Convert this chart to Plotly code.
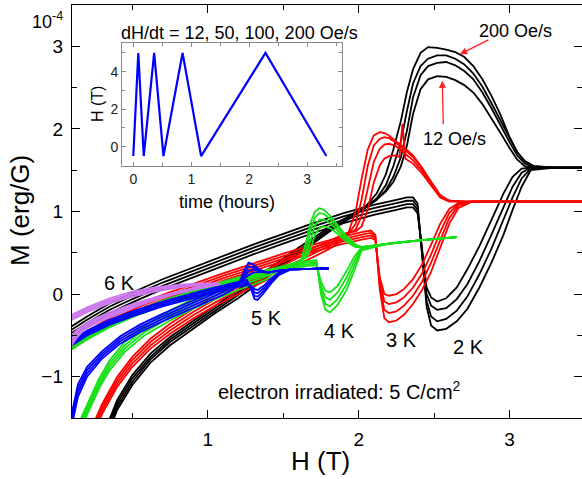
import plotly.graph_objects as go

# ---------------- data ----------------
RATES = [12, 50, 100, 200]  # sweep rates, Oe/s

# 2 K : branch through the large peak, and branch through the dip
H_2K_RISE = [0.33, 0.40, 0.50, 0.62, 0.75, 0.90, 1.05, 1.20, 1.40, 1.60, 1.80, 1.95, 2.05, 2.12,
             2.18, 2.23, 2.28, 2.32, 2.36, 2.41, 2.46, 2.52, 2.58, 2.64, 2.70, 2.76, 2.82, 2.88,
             2.94, 3.00, 3.05, 3.10, 3.16, 3.30, 3.48]
M_2K_RISE = [
    [-1.60, -1.28, -0.98, -0.72, -0.52, -0.33, -0.14, 0.04, 0.30, 0.56, 0.80, 0.96, 1.07, 1.15,
     1.24, 1.36, 1.55, 1.80, 2.18, 2.48, 2.60, 2.64, 2.63, 2.59, 2.53, 2.44, 2.30, 2.13,
     1.95, 1.77, 1.63, 1.55, 1.53, 1.53, 1.53],
    [-1.64, -1.32, -1.02, -0.76, -0.55, -0.36, -0.17, 0.01, 0.27, 0.53, 0.78, 0.94, 1.05, 1.14,
     1.26, 1.42, 1.66, 1.98, 2.38, 2.65, 2.76, 2.80, 2.81, 2.77, 2.70, 2.60, 2.44, 2.25,
     2.04, 1.84, 1.68, 1.58, 1.54, 1.53, 1.53],
    [-1.68, -1.36, -1.06, -0.79, -0.58, -0.39, -0.20, -0.02, 0.24, 0.51, 0.76, 0.93, 1.05, 1.16,
     1.32, 1.55, 1.85, 2.22, 2.55, 2.76, 2.85, 2.89, 2.89, 2.85, 2.78, 2.67, 2.51, 2.31,
     2.10, 1.89, 1.72, 1.61, 1.55, 1.53, 1.53],
    [-1.72, -1.40, -1.10, -0.83, -0.62, -0.42, -0.23, -0.05, 0.22, 0.49, 0.75, 0.93, 1.07, 1.22,
     1.45, 1.75, 2.10, 2.45, 2.72, 2.92, 2.99, 2.98, 2.96, 2.93, 2.87, 2.76, 2.60, 2.40,
     2.17, 1.90, 1.72, 1.61, 1.55, 1.53, 1.53],
]
H_2K_FALL = [0.09, 0.20, 0.35, 0.50, 0.70, 0.90, 1.10, 1.30, 1.50, 1.70, 1.90, 2.10, 2.25, 2.32,
             2.36, 2.39, 2.42, 2.45, 2.48, 2.52, 2.58, 2.65, 2.72, 2.80, 2.88, 2.96, 3.02, 3.08,
             3.14, 3.30, 3.48]
M_2K_FALL = [
    [-0.52, -0.39, -0.23, -0.10, 0.06, 0.20, 0.34, 0.48, 0.61, 0.74, 0.86, 0.96, 1.02, 1.05,
     1.05, 0.98, 0.55, 0.08, -0.04, -0.09, -0.05, 0.08, 0.30, 0.58, 0.90, 1.22, 1.42, 1.52,
     1.53, 1.53, 1.53],
    [-0.48, -0.35, -0.19, -0.06, 0.10, 0.24, 0.38, 0.52, 0.65, 0.78, 0.90, 1.00, 1.06, 1.09,
     1.09, 1.02, 0.52, 0.00, -0.14, -0.19, -0.17, -0.06, 0.12, 0.40, 0.72, 1.05, 1.30, 1.47,
     1.53, 1.53, 1.53],
    [-0.44, -0.31, -0.15, -0.02, 0.14, 0.28, 0.42, 0.56, 0.69, 0.82, 0.94, 1.04, 1.10, 1.13,
     1.13, 1.06, 0.50, -0.08, -0.27, -0.33, -0.30, -0.20, -0.03, 0.24, 0.55, 0.90, 1.17, 1.40,
     1.52, 1.53, 1.53],
    [-0.40, -0.27, -0.11, 0.02, 0.18, 0.32, 0.46, 0.60, 0.73, 0.86, 0.98, 1.08, 1.14, 1.17,
     1.17, 1.10, 0.48, -0.15, -0.38, -0.44, -0.42, -0.33, -0.18, 0.08, 0.38, 0.72, 1.02, 1.30,
     1.50, 1.53, 1.53],
]

# 3 K
H_3K_RISE = [0.24, 0.30, 0.40, 0.50, 0.62, 0.75, 0.90, 1.05, 1.20, 1.40, 1.60, 1.80, 1.92, 1.98,
             2.02, 2.06, 2.10, 2.14, 2.17, 2.20, 2.24, 2.27, 2.29, 2.31, 2.36, 2.42, 2.48, 2.54,
             2.60, 2.70, 3.00, 3.48]
M_3K_RISE = [
    [-1.58, -1.33, -1.00, -0.76, -0.54, -0.36, -0.18, -0.02, 0.12, 0.30, 0.48, 0.64, 0.74, 0.76,
     0.82, 1.02, 1.35, 1.56, 1.64, 1.67, 1.68, 1.66, 2.06, 1.64, 1.58, 1.46, 1.31, 1.17,
     1.12, 1.12, 1.12, 1.12],
    [-1.62, -1.37, -1.04, -0.80, -0.58, -0.40, -0.22, -0.06, 0.08, 0.26, 0.44, 0.61, 0.72, 0.78,
     0.95, 1.28, 1.60, 1.76, 1.81, 1.82, 1.80, 1.76, 1.73, 1.70, 1.62, 1.49, 1.33, 1.18,
     1.13, 1.12, 1.12, 1.12],
    [-1.66, -1.41, -1.08, -0.84, -0.62, -0.44, -0.26, -0.10, 0.04, 0.22, 0.40, 0.58, 0.70, 0.85,
     1.15, 1.55, 1.80, 1.88, 1.90, 1.89, 1.84, 1.80, 1.77, 1.74, 1.66, 1.52, 1.35, 1.19,
     1.13, 1.12, 1.12, 1.12],
    [-1.70, -1.45, -1.12, -0.88, -0.66, -0.48, -0.30, -0.14, 0.00, 0.18, 0.36, 0.54, 0.68, 1.00,
     1.40, 1.75, 1.92, 1.96, 1.95, 1.92, 1.86, 1.82, 1.79, 1.76, 1.68, 1.53, 1.36, 1.20,
     1.13, 1.12, 1.12, 1.12],
]
H_3K_FALL = [0.09, 0.20, 0.35, 0.50, 0.70, 0.90, 1.10, 1.30, 1.50, 1.70, 1.90, 2.02, 2.08, 2.11,
             2.14, 2.17, 2.20, 2.25, 2.30, 2.36, 2.42, 2.48, 2.54, 2.60, 2.66, 2.75, 3.00, 3.48]
M_3K_FALL = [
    [-0.68, -0.54, -0.38, -0.25, -0.10, 0.03, 0.16, 0.28, 0.40, 0.51, 0.61, 0.66, 0.68, 0.66,
     0.20, 0.00, -0.02, 0.00, 0.06, 0.18, 0.36, 0.60, 0.85, 1.03, 1.10, 1.12, 1.12, 1.12],
    [-0.65, -0.51, -0.35, -0.22, -0.07, 0.06, 0.19, 0.31, 0.43, 0.54, 0.64, 0.69, 0.71, 0.68,
     0.15, -0.09, -0.12, -0.10, -0.04, 0.08, 0.25, 0.48, 0.75, 0.98, 1.09, 1.12, 1.12, 1.12],
    [-0.62, -0.48, -0.32, -0.19, -0.04, 0.09, 0.22, 0.34, 0.46, 0.57, 0.67, 0.72, 0.74, 0.70,
     0.10, -0.19, -0.23, -0.21, -0.14, -0.02, 0.15, 0.38, 0.65, 0.92, 1.07, 1.12, 1.12, 1.12],
    [-0.59, -0.45, -0.29, -0.16, -0.01, 0.12, 0.25, 0.37, 0.49, 0.60, 0.70, 0.75, 0.77, 0.72,
     0.05, -0.29, -0.34, -0.32, -0.25, -0.12, 0.05, 0.27, 0.55, 0.85, 1.04, 1.12, 1.12, 1.12],
]

# 4 K
H_4K_RISE = [0.16, 0.22, 0.28, 0.35, 0.45, 0.58, 0.75, 0.90, 1.05, 1.20, 1.35, 1.50, 1.58, 1.62,
             1.65, 1.68, 1.71, 1.74, 1.77, 1.81, 1.86, 1.92, 1.98, 2.02, 2.20, 2.40, 2.65]
M_4K_RISE = [
    [-1.50, -1.26, -1.02, -0.80, -0.58, -0.38, -0.20, -0.06, 0.06, 0.17, 0.25, 0.33, 0.38, 0.41,
     0.44, 0.54, 0.72, 0.80, 0.82, 0.80, 0.73, 0.63, 0.57, 0.57, 0.61, 0.65, 0.69],
    [-1.54, -1.30, -1.06, -0.84, -0.62, -0.42, -0.24, -0.10, 0.02, 0.13, 0.22, 0.31, 0.37, 0.40,
     0.46, 0.64, 0.83, 0.90, 0.90, 0.86, 0.77, 0.66, 0.58, 0.57, 0.61, 0.65, 0.69],
    [-1.58, -1.34, -1.10, -0.88, -0.66, -0.46, -0.28, -0.14, -0.02, 0.09, 0.19, 0.29, 0.35, 0.40,
     0.52, 0.76, 0.93, 0.98, 0.97, 0.91, 0.81, 0.68, 0.59, 0.57, 0.61, 0.65, 0.69],
    [-1.62, -1.38, -1.14, -0.92, -0.70, -0.50, -0.32, -0.18, -0.06, 0.05, 0.15, 0.26, 0.33, 0.42,
     0.62, 0.86, 1.00, 1.04, 1.02, 0.95, 0.84, 0.70, 0.60, 0.57, 0.61, 0.65, 0.69],
]
H_4K_FALL = [0.09, 0.20, 0.35, 0.50, 0.70, 0.90, 1.10, 1.30, 1.50, 1.65, 1.72, 1.75, 1.78, 1.81,
             1.86, 1.92, 1.97, 2.02, 2.20, 2.40, 2.65]
M_4K_FALL = [
    [-0.68, -0.55, -0.40, -0.28, -0.14, -0.02, 0.09, 0.19, 0.28, 0.34, 0.35, 0.15, 0.04, 0.02,
     0.10, 0.28, 0.45, 0.57, 0.61, 0.65, 0.69],
    [-0.66, -0.53, -0.38, -0.26, -0.12, 0.00, 0.11, 0.21, 0.30, 0.36, 0.37, 0.10, -0.04, -0.07,
     0.02, 0.20, 0.40, 0.56, 0.61, 0.65, 0.69],
    [-0.64, -0.51, -0.36, -0.24, -0.10, 0.02, 0.13, 0.23, 0.32, 0.38, 0.39, 0.05, -0.12, -0.15,
     -0.06, 0.12, 0.34, 0.55, 0.61, 0.65, 0.69],
    [-0.62, -0.49, -0.34, -0.22, -0.08, 0.04, 0.15, 0.25, 0.34, 0.40, 0.41, 0.00, -0.19, -0.22,
     -0.13, 0.05, 0.28, 0.53, 0.61, 0.65, 0.69],
]

# 5 K
H_5K_RISE = [0.08, 0.11, 0.14, 0.20, 0.30, 0.42, 0.55, 0.70, 0.85, 1.00, 1.10, 1.17, 1.21, 1.24,
             1.27, 1.30, 1.34, 1.40, 1.46, 1.55, 1.80]
M_5K_RISE = [
    [-1.60, -1.35, -1.09, -0.88, -0.69, -0.51, -0.37, -0.24, -0.12, 0.00, 0.08, 0.12, 0.15, 0.18,
     0.23, 0.26, 0.27, 0.26, 0.28, 0.30, 0.31],
    [-1.65, -1.40, -1.14, -0.92, -0.72, -0.54, -0.40, -0.27, -0.15, -0.03, 0.05, 0.10, 0.14, 0.20,
     0.28, 0.30, 0.28, 0.26, 0.28, 0.30, 0.31],
    [-1.70, -1.45, -1.19, -0.96, -0.75, -0.57, -0.43, -0.30, -0.18, -0.06, 0.02, 0.08, 0.14, 0.24,
     0.33, 0.33, 0.29, 0.26, 0.28, 0.30, 0.31],
    [-1.75, -1.50, -1.24, -1.00, -0.78, -0.60, -0.46, -0.33, -0.21, -0.09, -0.01, 0.06, 0.14, 0.28,
     0.38, 0.36, 0.30, 0.26, 0.28, 0.30, 0.31],
]
H_5K_FALL = [0.09, 0.20, 0.35, 0.50, 0.70, 0.90, 1.05, 1.18, 1.26, 1.29, 1.31, 1.33, 1.37, 1.42,
             1.47, 1.55, 1.80]
M_5K_FALL = [
    [-0.63, -0.50, -0.37, -0.27, -0.15, -0.05, 0.02, 0.08, 0.11, 0.10, 0.06, 0.05, 0.10, 0.19,
     0.26, 0.30, 0.31],
    [-0.61, -0.48, -0.35, -0.25, -0.13, -0.03, 0.04, 0.10, 0.13, 0.08, 0.02, 0.01, 0.07, 0.17,
     0.25, 0.30, 0.31],
    [-0.59, -0.46, -0.33, -0.23, -0.11, -0.01, 0.06, 0.12, 0.15, 0.06, -0.02, -0.03, 0.04, 0.15,
     0.24, 0.30, 0.31],
    [-0.57, -0.44, -0.31, -0.21, -0.09, 0.01, 0.08, 0.14, 0.17, 0.04, -0.06, -0.07, 0.01, 0.13,
     0.23, 0.30, 0.31],
]

# 6 K
H_6K_UPPER = [0.09, 0.20, 0.35, 0.50, 0.65, 0.80, 0.95, 1.08]
M_6K_UPPER = [
    [-0.32, -0.22, -0.11, -0.03, 0.03, 0.08, 0.11, 0.12],
    [-0.30, -0.20, -0.09, -0.01, 0.05, 0.09, 0.12, 0.12],
    [-0.28, -0.18, -0.07, 0.01, 0.06, 0.10, 0.12, 0.13],
    [-0.26, -0.16, -0.05, 0.03, 0.08, 0.11, 0.13, 0.13],
]
H_6K_LOWER = [0.09, 0.13, 0.18, 0.25, 0.35, 0.50, 0.65, 0.80, 0.95, 1.08]
M_6K_LOWER = [
    [-0.52, -0.44, -0.37, -0.30, -0.22, -0.12, -0.04, 0.03, 0.09, 0.12],
    [-0.56, -0.47, -0.39, -0.32, -0.24, -0.14, -0.05, 0.02, 0.08, 0.12],
    [-0.60, -0.50, -0.41, -0.34, -0.26, -0.16, -0.06, 0.02, 0.08, 0.12],
    [-0.64, -0.53, -0.43, -0.36, -0.28, -0.17, -0.07, 0.01, 0.07, 0.12],
]

# inset: field protocol H(t)
T_HOURS = [0.0, 0.086, 0.18, 0.36, 0.52, 0.85, 1.17, 2.28, 3.33]
H_TESLA = [-0.5, 5.0, -0.5, 5.0, -0.5, 5.0, -0.5, 5.0, -0.5]

# ---------------- figure ----------------
W, HGT = 582, 479
L, R, T, B = 72, 0, 5, 61
PW, PH = W - L - R, HGT - T - B
FONT = "Liberation Sans, Arial, Helvetica, sans-serif"


def fx(p):
    return (p - L) / PW


def fy(p):
    return 1 - (p - T) / PH


fig = go.Figure()

groups = [
    ("2 K", "#000000", [(H_2K_RISE, M_2K_RISE), (H_2K_FALL, M_2K_FALL)]),
    ("3 K", "#ff0000", [(H_3K_RISE, M_3K_RISE), (H_3K_FALL, M_3K_FALL)]),
    ("4 K", "#16e016", [(H_4K_RISE, M_4K_RISE), (H_4K_FALL, M_4K_FALL)]),
    ("5 K", "#0000ff", [(H_5K_RISE, M_5K_RISE), (H_5K_FALL, M_5K_FALL)]),
    ("6 K", "#cc77ee", [(H_6K_UPPER, M_6K_UPPER), (H_6K_LOWER, M_6K_LOWER)]),
]
for name, color, branches in groups:
    for hx, curves in branches:
        for rate, my in zip(RATES, curves):
            fig.add_trace(go.Scatter(
                x=hx, y=my, mode="lines", name=f"{name}, {rate} Oe/s",
                line=dict(color=color, width=1.8), hoverinfo="skip",
                xaxis="x", yaxis="y"))

# inset trace
fig.add_trace(go.Scatter(x=T_HOURS, y=H_TESLA, mode="lines",
                         line=dict(color="#0000ff", width=2.2),
                         xaxis="x2", yaxis="y2", hoverinfo="skip"))

axis_common = dict(showline=True, linecolor="black", linewidth=1.4, mirror="ticks",
                   ticks="inside", ticklen=8, tickwidth=1.4, tickcolor="black",
                   showgrid=False, zeroline=False,
                   tickfont=dict(family=FONT, size=19, color="black"))

fig.update_layout(
    width=W, height=HGT,
    margin=dict(l=L, r=R, t=T, b=B),
    paper_bgcolor="white", plot_bgcolor="white",
    showlegend=False,
    xaxis=dict(range=[0.1, 3.48], tickvals=[1, 2, 3], domain=[0, 1],
               minor=dict(ticks="inside", ticklen=5, tickwidth=1.4, tickcolor="black",
                          tickvals=[0.5, 1.5, 2.5]),
               ticklabelstandoff=4, **axis_common),
    yaxis=dict(range=[-1.5, 3.5], tickvals=[-1, 0, 1, 2, 3], domain=[0, 1],
               minor=dict(ticks="inside", ticklen=5, tickwidth=1.4, tickcolor="black",
                          tickvals=[-0.5, 0.5, 1.5, 2.5]),
               ticklabelstandoff=4, **axis_common),
    xaxis2=dict(domain=[fx(122), fx(342)], anchor="y2", range=[-0.195, 3.6],
                tickvals=[0, 1, 2, 3], showline=True, mirror="ticks", linecolor="#8a8a8a",
                linewidth=1, ticks="inside", ticklen=4, tickcolor="#8a8a8a",
                minor=dict(ticks="inside", ticklen=3, tickcolor="#8a8a8a",
                           tickvals=[0.5, 1.5, 2.5, 3.5]),
                showgrid=False, zeroline=False,
                tickfont=dict(family=FONT, size=14, color="#222222")),
    yaxis2=dict(domain=[fy(166), fy(43)], anchor="x2", range=[-1.03, 5.53],
                tickvals=[0, 2, 4], showline=True, mirror="ticks", linecolor="#8a8a8a",
                linewidth=1, ticks="inside", ticklen=4, tickcolor="#8a8a8a",
                minor=dict(ticks="inside", ticklen=3, tickcolor="#8a8a8a",
                           tickvals=[1, 3, 5]),
                showgrid=False, zeroline=False,
                tickfont=dict(family=FONT, size=14, color="#222222")),
)

ann = []


def label(x, y, s, size, angle=0, color="black"):
    ann.append(dict(xref="paper", yref="paper", x=fx(x), y=fy(y), text=s,
                    showarrow=False, xanchor="center", yanchor="middle",
                    textangle=angle, font=dict(family=FONT, size=size, color=color)))


label(20, 211, "M (erg/G)", 26, angle=-90)
label(320, 461, "H (T)", 26)
label(47, 20, "10<sup>-4</sup>", 18)
label(239, 33, "dH/dt = 12, 50, 100, 200 Oe/s", 18)
label(227, 202, "time (hours)", 18)
label(97, 104, "H (T)", 16, angle=-90)
label(515, 31, "200 Oe/s", 18)
label(454, 139, "12 Oe/s", 18)
label(119, 283, "6 K", 20)
label(266, 318, "5 K", 20)
label(339, 331, "4 K", 20)
label(401, 340, "3 K", 20)
label(468, 347, "2 K", 20)
label(339, 390, "electron irradiated: 5 C/cm<sup>2</sup>", 20)

# red arrows pointing at the fastest and slowest sweep peaks
for hx, my, ax, ay in [(2.671, 2.905, 30, -15), (2.554, 2.584, 1, 45)]:
    ann.append(dict(xref="x", yref="y", x=hx, y=my, ax=ax, ay=ay, text="",
                    showarrow=True, arrowhead=2, arrowsize=1.1, arrowwidth=1.3,
                    arrowcolor="#ff2020", standoff=0, startstandoff=0))

fig.update_layout(annotations=ann)

fig.write_html("out.html", config=dict(displayModeBar=False))
